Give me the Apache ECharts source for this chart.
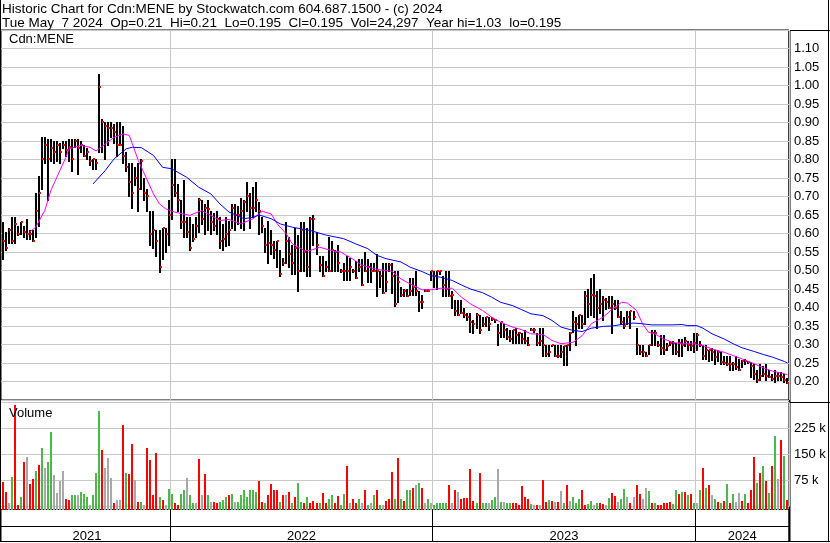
<!DOCTYPE html>
<html><head><meta charset="utf-8">
<script src="https://cdn.jsdelivr.net/npm/echarts@6/dist/echarts.min.js"></script>
<style>html,body{margin:0;padding:0;background:#fff}#c{width:830px;height:543px}</style>
</head><body><div id="c"></div>
<script>
// ---- data (one point ~ 3 trading days) ----
const years = ['2021','2022','2023','2024'];
const yearCounts = [56, 87, 87, 31];
const highs = [
.63,.605,.615,.645,.645,.62,.63,.62,.64,.61,
.61,.71,.755,.86,.86,.855,.855,.85,.85,.845,
.85,.85,.855,.855,.855,.855,.85,.84,.83,.81,
.80,.80,1.03,.91,.90,.90,.90,.895,.90,.90,
.89,.82,.79,.79,.78,.79,.80,.75,.72,.66,
.66,.61,.61,.615,.615,.69,.80,.80,.735,.69,
.745,.645,.645,.625,.645,.695,.69,.68,.69,.66,
.655,.66,.645,.625,.645,.635,.68,.68,.675,.695,
.69,.74,.71,.725,.74,.685,.645,.615,.635,.61,
.58,.58,.555,.535,.63,.59,.57,.615,.595,.63,
.63,.615,.645,.65,.605,.54,.54,.525,.59,.58,
.555,.57,.505,.52,.54,.535,.505,.525,.53,.53,
.55,.53,.52,.52,.545,.50,.52,.52,.52,.52,
.50,.50,.455,.45,.45,.48,.48,.50,.445,.435,
.45,.45,.50,.50,.50,.50,.485,.50,.50,.445,
.42,.42,.42,.40,.385,.385,.365,.385,.38,.375,
.375,.375,.375,.37,.355,.36,.355,.345,.34,.34,
.345,.335,.33,.34,.32,.345,.345,.33,.345,.345,
.30,.30,.30,.30,.30,.30,.295,.30,.335,.39,
.375,.38,.38,.445,.45,.48,.49,.445,.45,.43,
.425,.43,.43,.42,.42,.39,.375,.39,.39,.39,
.345,.30,.30,.28,.30,.34,.34,.31,.325,.325,
.305,.31,.31,.305,.315,.315,.32,.31,.31,.33,
.33,.31,.30,.30,.285,.29,.285,.285,.28,.27,
.27,.27,.252,.27,.26,.257,.26,.255,.252,.248,
.23,.248,.243,.248,.23,.22,.23,.225,.225,.22,
.21];
const lows = [
.53,.555,.575,.575,.575,.595,.60,.59,.585,.585,
.58,.59,.62,.72,.79,.69,.795,.79,.795,.79,
.83,.81,.795,.77,.835,.76,.82,.81,.80,.785,
.775,.775,.82,.82,.80,.84,.86,.845,.81,.84,
.79,.77,.70,.67,.73,.66,.72,.69,.66,.57,
.56,.54,.495,.53,.55,.57,.64,.70,.66,.615,
.59,.59,.555,.58,.59,.605,.625,.60,.61,.60,
.61,.60,.56,.555,.565,.57,.615,.61,.625,.615,
.61,.66,.615,.645,.66,.60,.605,.55,.52,.545,
.535,.51,.485,.515,.52,.51,.49,.49,.445,.50,
.50,.485,.485,.57,.545,.50,.485,.50,.50,.50,
.50,.50,.495,.475,.475,.475,.495,.48,.50,.46,
.50,.47,.47,.50,.43,.455,.44,.445,.50,.44,
.405,.415,.43,.43,.43,.435,.435,.435,.39,.40,
.445,.445,.475,.455,.45,.49,.43,.43,.43,.40,
.38,.38,.385,.375,.365,.335,.33,.345,.33,.35,
.35,.34,.365,.36,.30,.32,.32,.315,.31,.305,
.305,.305,.305,.305,.30,.34,.335,.30,.30,.27,
.27,.27,.295,.27,.265,.265,.245,.245,.285,.335,
.30,.345,.345,.355,.375,.38,.375,.345,.385,.365,
.395,.40,.33,.395,.375,.355,.345,.355,.345,.37,
.275,.275,.27,.27,.275,.30,.30,.295,.275,.275,
.285,.30,.275,.275,.27,.27,.295,.285,.285,.28,
.285,.295,.26,.26,.255,.257,.248,.255,.248,.248,
.245,.23,.23,.235,.23,.238,.248,.25,.212,.208,
.198,.203,.215,.203,.212,.203,.20,.203,.203,.20,
.195];
const closes = [
.58,.56,.61,.58,.625,.60,.63,.605,.60,.60,
.58,.66,.71,.80,.84,.80,.83,.82,.84,.82,
.84,.825,.835,.80,.85,.83,.84,.81,.82,.795,
.80,.79,.995,.90,.89,.885,.885,.875,.84,.84,
.81,.78,.74,.71,.75,.72,.795,.71,.70,.60,
.61,.58,.51,.615,.60,.65,.73,.71,.69,.63,
.63,.605,.56,.585,.62,.69,.64,.67,.665,.63,
.62,.64,.58,.585,.60,.61,.67,.65,.65,.66,
.685,.70,.67,.67,.69,.66,.62,.57,.575,.57,
.555,.58,.49,.52,.58,.545,.52,.56,.50,.61,
.55,.51,.64,.64,.57,.515,.485,.51,.50,.555,
.55,.52,.50,.50,.50,.51,.50,.48,.51,.46,
.50,.51,.50,.50,.50,.485,.44,.47,.515,.485,
.41,.47,.435,.445,.43,.445,.455,.445,.415,.415,
.445,.445,.50,.485,.50,.50,.46,.45,.43,.435,
.39,.38,.385,.38,.375,.36,.355,.38,.34,.355,
.375,.355,.37,.365,.33,.36,.34,.32,.315,.34,
.325,.33,.315,.31,.30,.34,.34,.305,.31,.30,
.275,.28,.30,.27,.27,.28,.295,.30,.33,.36,
.355,.38,.355,.43,.41,.435,.43,.40,.41,.42,
.415,.40,.41,.40,.375,.36,.35,.375,.39,.375,
.30,.28,.28,.27,.30,.33,.33,.30,.29,.285,
.295,.305,.305,.28,.305,.30,.31,.30,.295,.305,
.325,.30,.27,.285,.285,.28,.265,.28,.252,.25,
.248,.248,.248,.24,.23,.255,.255,.252,.243,.22,
.203,.215,.22,.215,.212,.207,.215,.215,.212,.203,
.195];
// volume in thousands of shares
const volK = [
70,42,9,85,292,4,28,129,143,66,
80,102,121,169,110,129,215,90,40,73,
102,23,18,33,33,33,42,37,28,4,
33,96,275,162,111,140,81,9,18,18,
235,96,94,179,76,12,14,4,169,134,
33,154,28,18,4,50,37,9,4,37,
47,83,33,9,9,137,33,95,33,14,
14,9,14,18,28,33,37,14,14,33,
47,28,47,47,42,73,14,9,33,66,
47,47,14,33,33,42,11,28,69,14,
11,28,9,15,9,9,40,11,23,33,
11,30,5,35,116,11,23,11,21,11,
47,5,11,33,47,4,4,15,21,100,
21,140,21,15,47,47,54,63,69,54,
11,21,11,4,9,9,9,9,63,9,
49,42,23,25,25,108,15,11,96,11,
11,9,18,28,108,14,14,11,11,9,
9,4,60,28,23,6,4,4,4,76,
14,18,15,13,13,44,11,62,15,27,
11,21,47,4,8,15,4,11,11,8,
4,25,38,30,13,21,50,28,11,28,
62,37,23,54,45,11,11,4,4,11,
11,13,8,47,35,42,42,33,37,11,
11,48,111,52,62,33,23,13,11,15,
66,11,35,13,40,15,35,11,47,142,
69,98,117,73,40,117,202,79,191,146,
18];
// d = down day (red), u = up day (green), n = unchanged (grey)
const volDirChunks = [
'ddnuddudnd','dudunuunnn','ndduunuuun','uuudnnndnn','duddndundd',
'ddudnuuddu','unuundndun','dduuudunuu','uuuuuddudd','ddudnduduu',
'dudddudduu','dduudnddun','dunudunddd','ududuudnud','nunuuuuudn',
'dndddddudu','unuununuud','dddddundnd','dudndnudnu','uudduunudd',
'nuddnuundn','ddnnududdd','dduudududu','nududnudud','udunnduddd',
'udududundud'];
// moving averages: [point index, value]
const maFast = [[9,0.604],[11,0.617],[14,0.662],[16,0.716],[19,0.77],[21,0.806],[22,0.829],[26,0.838],[29,0.833],[31,0.823],[34,0.842],[37,0.86],[40,0.869],[42,0.865],[45,0.797],[47,0.761],[50,0.707],[52,0.68],[54,0.667],[57,0.658],[62,0.649],[66,0.662],[69,0.649],[72,0.635],[75,0.638],[79,0.626],[83,0.64],[86,0.66],[89,0.653],[91,0.626],[94,0.599],[96,0.572],[100,0.554],[102,0.554],[105,0.563],[109,0.554],[112,0.55],[115,0.536],[119,0.515],[122,0.507],[125,0.502],[129,0.498],[132,0.477],[135,0.464],[139,0.448],[142,0.448],[145,0.452],[149,0.452],[152,0.428],[155,0.41],[159,0.392],[162,0.374],[165,0.36],[169,0.347],[172,0.34],[175,0.329],[179,0.327],[182,0.311],[185,0.302],[189,0.306],[192,0.324],[195,0.356],[199,0.374],[202,0.396],[205,0.414],[207,0.412],[210,0.392],[212,0.356],[214,0.333],[216,0.329],[219,0.315],[222,0.306],[225,0.302],[229,0.302],[232,0.297],[235,0.288],[239,0.279],[242,0.27],[245,0.261],[249,0.248],[252,0.237],[255,0.228],[259,0.221],[260,0.218]];
const maSlow = [[30,0.734],[34,0.77],[37,0.802],[41,0.829],[43,0.833],[46,0.832],[50,0.811],[53,0.779],[56,0.775],[61,0.752],[65,0.725],[69,0.707],[72,0.68],[75,0.658],[80,0.64],[83,0.644],[85,0.65],[89,0.64],[92,0.626],[96,0.617],[102,0.608],[107,0.596],[113,0.586],[117,0.572],[121,0.559],[124,0.541],[127,0.532],[132,0.523],[135,0.509],[139,0.497],[142,0.486],[145,0.482],[149,0.473],[152,0.461],[155,0.45],[159,0.44],[162,0.428],[165,0.414],[169,0.405],[172,0.394],[175,0.383],[179,0.378],[182,0.365],[185,0.347],[189,0.338],[192,0.335],[195,0.344],[199,0.349],[202,0.35],[205,0.354],[209,0.358],[212,0.356],[215,0.353],[222,0.353],[225,0.354],[227,0.351],[230,0.351],[232,0.344],[235,0.329],[239,0.315],[242,0.302],[245,0.291],[249,0.281],[252,0.273],[255,0.266],[259,0.254],[260,0.25]];
const priceLabelRange = [0.20, 1.10];
const volTickLabels = [75, 150, 225];
const headerLines = [
  'Historic Chart for Cdn:MENE by Stockwatch.com 604.687.1500 - (c) 2024',
  'Tue May  7 2024  Op=0.21  Hi=0.21  Lo=0.195  Cl=0.195  Vol=24,297  Year hi=1.03  lo=0.195'
];

// ---- build ----
const volDir = volDirChunks.join('');
const categories = [];
years.forEach((y, k) => { for (let j = 0; j < yearCounts[k]; j++) categories.push(y + '-' + j); });
const boundaries = []; let acc = 0;
yearCounts.slice(0, -1).forEach(c => { acc += c; boundaries.push(acc); });
const labelIdx = []; acc = 0;
yearCounts.forEach(c => { labelIdx.push(acc + Math.floor(c / 2)); acc += c; });

const FONT = 'Liberation Sans, Arial, sans-serif';
const colorOf = { d: '#ff0000', u: '#4cb84c', n: '#a8a8a8' };
const GRIDL = 1, GRIDR = 41;

function xAxisFor(gi, splitColor, withLabels) {
  return {
    type: 'category', gridIndex: gi, data: categories, boundaryGap: true,
    axisLine: { show: false }, axisTick: { show: false },
    axisLabel: withLabels ? {
      show: true, margin: 3, fontSize: 13, fontFamily: FONT, color: '#000',
      interval: (i) => labelIdx.indexOf(i) >= 0,
      formatter: (v) => String(v).split('-')[0]
    } : { show: false },
    splitLine: { show: true, interval: (i) => boundaries.indexOf(i) >= 0, lineStyle: { color: splitColor, width: 1 } }
  };
}

const chart = echarts.init(document.getElementById('c'), null, { renderer: 'canvas' });
chart.setOption({
  animation: false,
  backgroundColor: '#fff',
  title: [
    { text: headerLines.join('\n'), left: 2, top: 2, padding: 0,
      textStyle: { fontSize: 13.5, fontWeight: 'normal', fontFamily: FONT, color: '#000', lineHeight: 14.5 } },
    { text: 'Cdn:MENE', left: 9, top: 33, padding: 0,
      textStyle: { fontSize: 13, fontWeight: 'normal', fontFamily: FONT, color: '#000' } },
    { text: 'Volume', left: 9, top: 407, padding: 0,
      textStyle: { fontSize: 13, fontWeight: 'normal', fontFamily: FONT, color: '#000' } }
  ],
  grid: [
    { left: GRIDL, right: GRIDR, top: 30, height: 370, show: true, borderColor: '#000', borderWidth: 1, backgroundColor: 'transparent' },
    { left: GRIDL, right: GRIDR, top: 402.5, height: 104 },
    { left: GRIDL, right: GRIDR, top: 509.5, height: 17, show: true, borderColor: '#000', borderWidth: 1 },
    { left: GRIDL, right: GRIDR, top: 526.5, height: 15, show: true, borderColor: '#000', borderWidth: 1 }
  ],
  xAxis: [
    xAxisFor(0, '#c8c8c8', false),
    xAxisFor(1, '#c8c8c8', false),
    xAxisFor(2, '#000', true),
    xAxisFor(3, '#000', false)
  ],
  yAxis: [
    { type: 'value', gridIndex: 0, position: 'right', min: 0.15, max: 1.15, interval: 0.05,
      axisLine: { show: false }, axisTick: { show: false },
      axisLabel: { margin: 5, fontSize: 13, fontFamily: FONT, color: '#000',
        formatter: (v) => (v >= priceLabelRange[0] - 1e-6 && v <= priceLabelRange[1] + 1e-6) ? v.toFixed(2) : '' },
      splitLine: { lineStyle: { color: '#c8c8c8', width: 1 } } },
    { type: 'value', gridIndex: 1, position: 'right', min: 0, max: 300, interval: 75,
      axisLine: { show: false }, axisTick: { show: false },
      axisLabel: { margin: 5, fontSize: 13, fontFamily: FONT, color: '#000',
        formatter: (v) => volTickLabels.indexOf(Math.round(v)) >= 0 ? Math.round(v) + ' k' : '' },
      splitLine: { lineStyle: { color: '#c8c8c8', width: 1 } } },
    { type: 'value', gridIndex: 2, show: false },
    { type: 'value', gridIndex: 3, show: false }
  ],
  series: [
    { type: 'custom', name: 'price', xAxisIndex: 0, yAxisIndex: 0, clip: true,
      data: highs.map((h, i) => [i, h, lows[i], closes[i]]),
      encode: { x: 0, y: [1, 2, 3] },
      renderItem: (params, api) => {
        const i = api.value(0);
        const top = api.coord([i, api.value(1)]);
        const bot = api.coord([i, api.value(2)]);
        const cl = api.coord([i, api.value(3)]);
        const x = Math.round(top[0]) - 1;
        const y0 = Math.round(top[1]), y1 = Math.round(bot[1]);
        return { type: 'group', children: [
          { type: 'rect', shape: { x: x, y: y0, width: 2, height: Math.max(1, y1 - y0 + 1) }, style: { fill: '#000' } },
          { type: 'rect', shape: { x: x + 1, y: Math.round(cl[1]) - 1, width: 2, height: 2 }, style: { fill: '#ff0000' } }
        ] };
      } },
    { type: 'line', name: 'MA fast', xAxisIndex: 0, yAxisIndex: 0, data: maFast, showSymbol: false, symbol: 'none',
      lineStyle: { color: '#ff00ff', width: 1 }, z: 5 },
    { type: 'line', name: 'MA slow', xAxisIndex: 0, yAxisIndex: 0, data: maSlow, showSymbol: false, symbol: 'none',
      lineStyle: { color: '#0000ff', width: 1 }, z: 5 },
    { type: 'custom', name: 'volume', xAxisIndex: 1, yAxisIndex: 1,
      data: volK.map((v, i) => [i, v]),
      encode: { x: 0, y: 1 },
      renderItem: (params, api) => {
        const i = api.value(0);
        const top = api.coord([i, api.value(1)]);
        const base = api.coord([i, 0]);
        const x = Math.round(top[0]) - 1;
        const y0 = Math.round(top[1]);
        return { type: 'rect', shape: { x: x, y: y0, width: 2, height: Math.max(1, Math.round(base[1]) + 3 - y0) },
          style: { fill: colorOf[volDir[i]] || '#a8a8a8' } };
      } }
  ],
  graphic: [
    { type: 'line', shape: { x1: 0, y1: 30.5, x2: 830, y2: 30.5 }, style: { stroke: '#000', lineWidth: 1 } },
    { type: 'line', shape: { x1: 0, y1: 402.5, x2: 830, y2: 402.5 }, style: { stroke: '#000', lineWidth: 1 } },
    { type: 'line', shape: { x1: 789.5, y1: 30, x2: 789.5, y2: 542 }, style: { stroke: '#000', lineWidth: 2 } },
    { type: 'line', shape: { x1: 0.5, y1: 0, x2: 0.5, y2: 542 }, style: { stroke: '#000', lineWidth: 1 } },
    { type: 'line', shape: { x1: 828.5, y1: 0, x2: 828.5, y2: 542 }, style: { stroke: '#000', lineWidth: 1 } },
    { type: 'line', shape: { x1: 0, y1: 541.5, x2: 830, y2: 541.5 }, style: { stroke: '#000', lineWidth: 1 } }
  ]
});
</script></body></html>
